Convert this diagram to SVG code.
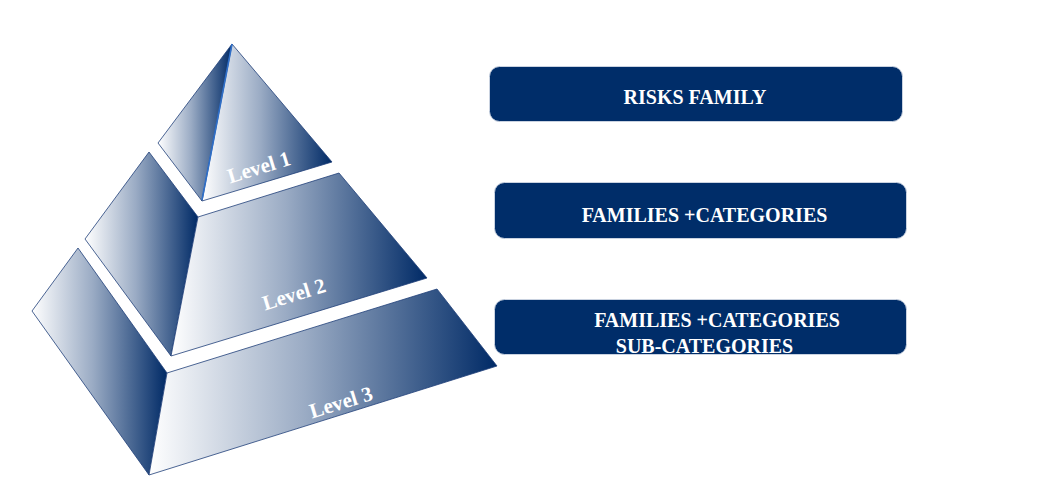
<svg xmlns="http://www.w3.org/2000/svg" width="1043" height="477" viewBox="0 0 1043 477">
<defs>
<linearGradient id="g" x1="0" y1="0" x2="1" y2="0">
<stop offset="0" stop-color="#ffffff"/>
<stop offset="0.45" stop-color="#9aabc4"/>
<stop offset="1" stop-color="#002a66"/>
</linearGradient>
</defs>
<style>
.face{fill:url(#g);stroke:#1f3f78;stroke-width:0.8;stroke-linejoin:round}
.lvl{font-family:"Liberation Serif",serif;font-weight:bold;font-size:21px;fill:#ffffff;text-anchor:middle}
.box{fill:#002d69;stroke:#c9d2e0;stroke-width:1}
.bt{font-family:"Liberation Serif",serif;font-weight:bold;font-size:20px;fill:#ffffff;text-anchor:middle}
</style>
<rect width="1043" height="477" fill="#ffffff"/>
<g id="level1">
<polygon class="face" points="232,44 158,143 202,201"/>
<polygon class="face" points="232,44 202,201 332,162"/>
<line x1="232" y1="44" x2="202" y2="200" stroke="#2f6fc8" stroke-width="1.6"/>
<text class="lvl" transform="translate(261,174) rotate(-17)">Level 1</text>
</g>
<g id="level2">
<polygon class="face" points="149,152 85,239 171,356 198,217"/>
<polygon class="face" points="198,217 339,173 427,278 171,356"/>
<text class="lvl" transform="translate(296,301) rotate(-17)">Level 2</text>
</g>
<g id="level3">
<polygon class="face" points="78,248 32,311 149,475 167,373"/>
<polygon class="face" points="167,373 437,289 497,366 149,475"/>
<text class="lvl" transform="translate(343,409) rotate(-17)">Level 3</text>
</g>
<g id="box1">
<rect class="box" x="489.5" y="66.5" width="413" height="55" rx="10"/>
<text class="bt" x="695" y="104">RISKS FAMILY</text>
</g>
<g id="box2">
<rect class="box" x="494.5" y="182.5" width="412" height="56" rx="10"/>
<text class="bt" x="704.5" y="221.5">FAMILIES +CATEGORIES</text>
</g>
<g id="box3">
<rect class="box" x="494.5" y="299.5" width="412" height="55" rx="10"/>
<text class="bt" x="717" y="327">FAMILIES +CATEGORIES</text>
<text class="bt" x="704.5" y="352.5">SUB-CATEGORIES</text>
</g>
<g id="connectors"></g>
</svg>
